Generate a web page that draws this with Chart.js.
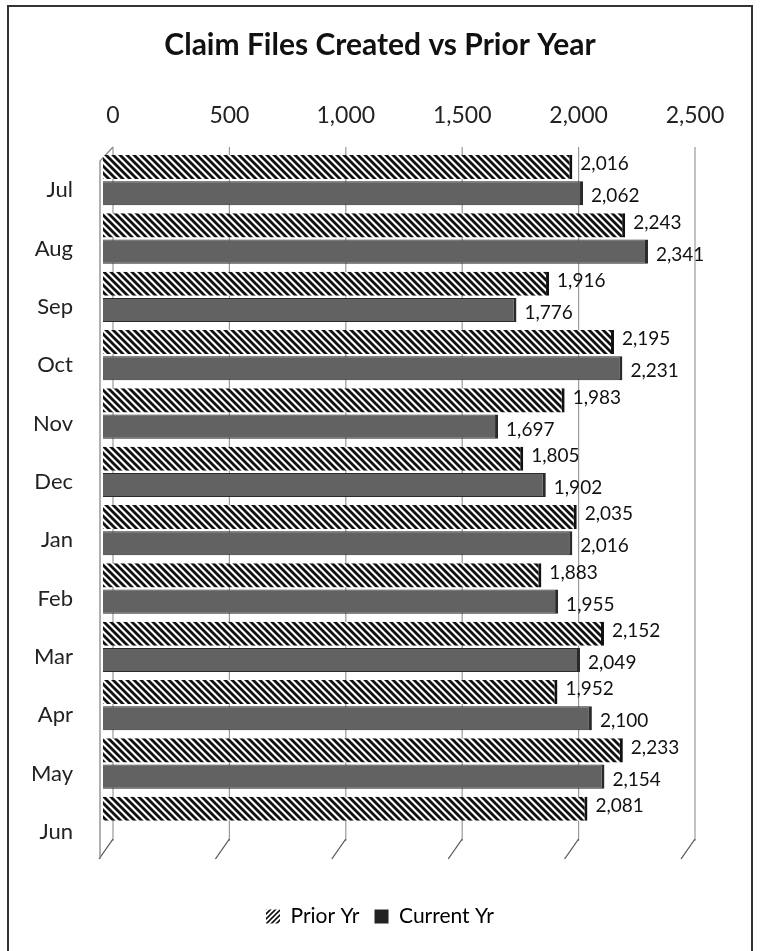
<!DOCTYPE html>
<html>
<head>
<meta charset="utf-8">
<script src="https://cdn.jsdelivr.net/npm/chart.js@4.4.1/dist/chart.umd.min.js"></script>
<style>
  html, body { margin: 0; padding: 0; background: #fff; }
  #wrap { position: relative; width: 760px; height: 951px; overflow: hidden; }
  #frame { position: absolute; left: 7px; top: 5px; width: 746px; height: 960px;
           border: 2px solid #333; border-bottom: none; box-sizing: border-box; }
  #c { position: absolute; left: 0; top: 0; }
</style>
</head>
<body>
<div id="wrap">
  <div id="frame"></div>
  <canvas id="c" width="760" height="951"></canvas>
</div>
<script>
// ---- data ----
const months = ['Jul','Aug','Sep','Oct','Nov','Dec','Jan','Feb','Mar','Apr','May','Jun'];
const priorYr = [2016, 2243, 1916, 2195, 1983, 1805, 2035, 1883, 2152, 1952, 2233, 2081];
const currentYr = [2062, 2341, 1776, 2231, 1697, 1902, 2016, 1955, 2049, 2100, 2154, null];
const xTickValues = [0, 500, 1000, 1500, 2000, 2500];
const xTickLabels = ['0', '500', '1,000', '1,500', '2,000', '2,500'];
const seriesNames = ['Prior Yr', 'Current Yr'];
const chartTitle = 'Claim Files Created vs Prior Year';

const FONT = 'Lato';
const DEPTH = 10;

function makeHatch(forward, size, lw) {
  const c = document.createElement('canvas');
  c.width = size; c.height = size;
  const g = c.getContext('2d');
  g.fillStyle = '#fff'; g.fillRect(0, 0, size, size);
  g.strokeStyle = '#111'; g.lineWidth = lw; g.lineCap = 'square';
  for (const k of [-size, 0, size]) {
    g.beginPath();
    if (forward) { g.moveTo(k, size); g.lineTo(k + size, 0); }
    else { g.moveTo(k, 0); g.lineTo(k + size, size); }
    g.stroke();
  }
  return g.createPattern(c, 'repeat');
}
const barHatch = makeHatch(false, 7, 2.8);
const legendHatch = makeHatch(true, 5, 1.6);

const fmt = v => v.toLocaleString('en-US');

const grid3d = {
  id: 'grid3d',
  beforeDatasetsDraw(chart) {
    const xs = chart.scales.x;
    const { top, bottom } = chart.chartArea;
    const ctx = chart.ctx;
    ctx.save();
    xTickValues.forEach(v => {
      const f = xs.getPixelForValue(v);
      const b = f + DEPTH;
      ctx.strokeStyle = '#9a9a9a'; ctx.lineWidth = 1.2;
      ctx.beginPath(); ctx.moveTo(b, top - 4); ctx.lineTo(b, bottom - 10); ctx.stroke();
      ctx.strokeStyle = '#555'; ctx.lineWidth = 1.3;
      ctx.beginPath(); ctx.moveTo(b, bottom - 12); ctx.lineTo(f - 4, bottom + 8); ctx.stroke();
    });
    const f0 = xs.getPixelForValue(0) - 3;
    ctx.strokeStyle = '#888'; ctx.lineWidth = 1.3;
    ctx.beginPath();
    ctx.moveTo(f0, bottom + 8); ctx.lineTo(f0, top + 10); ctx.lineTo(f0 + DEPTH + 3, top - 4);
    ctx.stroke();
    ctx.restore();
  }
};

const valueLabels = {
  id: 'valueLabels',
  afterDatasetsDraw(chart) {
    const ctx = chart.ctx;
    ctx.save();
    ctx.font = '19px ' + FONT;
    ctx.fillStyle = '#111';
    ctx.textBaseline = 'middle';
    ctx.textAlign = 'left';
    chart.data.datasets.forEach((ds, i) => {
      const meta = chart.getDatasetMeta(i);
      meta.data.forEach((el, j) => {
        const v = ds.data[j];
        if (v == null) return;
        ctx.fillText(fmt(v), el.x + 8, el.y + (i === 0 ? -3 : 3));
      });
    });
    ctx.restore();
  }
};

new Chart(document.getElementById('c'), {
  type: 'bar',
  data: {
    labels: months,
    datasets: [
      {
        label: seriesNames[0], data: priorYr,
        backgroundColor: barHatch, borderColor: '#111',
        borderWidth: { top: 0, bottom: 0, left: 0, right: 3 },
        borderSkipped: 'start',
        barPercentage: 0.92, categoryPercentage: 0.9
      },
      {
        label: seriesNames[1], data: currentYr,
        backgroundColor: '#626262', borderColor: '#2a2a2a',
        borderWidth: { top: 1, bottom: 1, left: 0, right: 3 },
        borderSkipped: 'start',
        barPercentage: 0.92, categoryPercentage: 0.9
      }
    ]
  },
  options: {
    indexAxis: 'y',
    responsive: false,
    animation: false,
    layout: { padding: { top: 0, left: 0, right: 0, bottom: 14 } },
    scales: {
      x: {
        position: 'top', min: 0, max: 2500,
        grid: { display: false, drawTicks: false },
        border: { display: false },
        afterBuildTicks(s) { s.ticks = xTickValues.map(v => ({ value: v })); },
        ticks: {
          callback: (v) => xTickLabels[xTickValues.indexOf(v)],
          font: { family: FONT, size: 23 }, color: '#222',
          padding: 22, labelOffset: 10, maxRotation: 0
        },
        afterFit(s) { s.height = 78; }
      },
      pad: {
        type: 'linear', axis: 'x', position: 'bottom', display: true,
        grid: { display: false, drawTicks: false }, border: { display: false },
        ticks: { display: false },
        afterFit(s) { s.height = 40; }
      },
      y: {
        grid: { display: false, drawTicks: false },
        border: { display: false },
        ticks: { font: { family: FONT, size: 22 }, color: '#222', padding: 30, labelOffset: 10 },
        afterFit(s) { s.width = 103; }
      },
      padR: {
        type: 'linear', axis: 'y', position: 'right', display: true,
        grid: { display: false, drawTicks: false }, border: { display: false },
        ticks: { display: false },
        afterFit(s) { s.width = 75; }
      }
    },
    plugins: {
      title: {
        display: true, text: chartTitle, color: '#111',
        font: { family: FONT, size: 30, weight: 'bold' },
        padding: { top: 27, bottom: 10 }
      },
      legend: {
        position: 'bottom',
        labels: {
          font: { family: FONT, size: 21 }, color: '#111',
          boxWidth: 14, boxHeight: 14, padding: 15,
          generateLabels: () => [
            { text: seriesNames[0], fillStyle: legendHatch, strokeStyle: 'rgba(0,0,0,0)', lineWidth: 0, datasetIndex: 0 },
            { text: seriesNames[1], fillStyle: '#222', strokeStyle: '#222', lineWidth: 0, datasetIndex: 1 }
          ]
        }
      },
      tooltip: { enabled: false }
    }
  },
  plugins: [grid3d, valueLabels]
});
</script>
</body>
</html>
